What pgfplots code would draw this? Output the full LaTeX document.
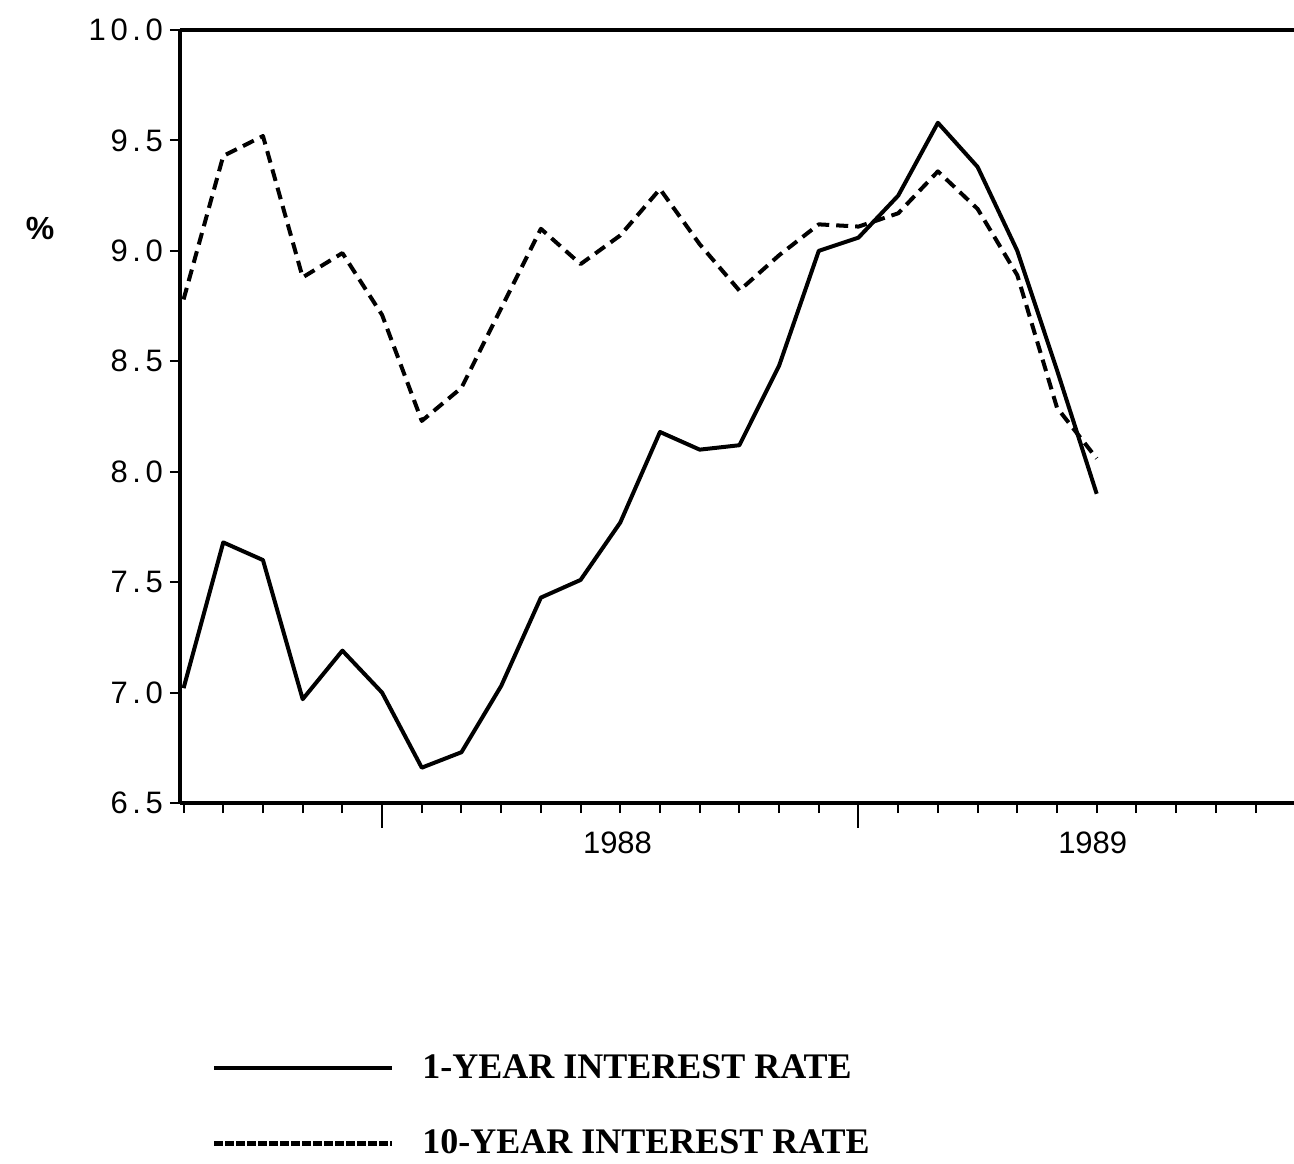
\documentclass[border=0pt]{standalone}
\usepackage{pgfplots}
\pgfplotsset{compat=1.18}
\usepackage{fontspec}
\setmainfont{Liberation Serif}
\newfontfamily\tickfont{Liberation Sans}
\newfontfamily\ytickfont{Liberation Sans}[LetterSpace=15]
\newcommand{\tickfs}{\tickfont\fontsize{15.5}{16}\selectfont}
\newcommand{\ytickfs}{\ytickfont\fontsize{15.5}{16}\selectfont}
\newcommand{\legendfont}{\fontsize{18}{20}\selectfont\bfseries}

\pgfplotstableread{
m v
-5 7.02
-4 7.68
-3 7.60
-2 6.97
-1 7.19
0 7.00
1 6.66
2 6.73
3 7.03
4 7.43
5 7.51
6 7.77
7 8.18
8 8.10
9 8.12
10 8.48
11 9.00
12 9.06
13 9.25
14 9.58
15 9.38
16 9.00
17 8.46
18 7.90
}\oneyear

\pgfplotstableread{
m v
-5 8.78
-4 9.43
-3 9.52
-2 8.88
-1 8.99
0 8.71
1 8.23
2 8.38
3 8.74
4 9.10
5 8.94
6 9.07
7 9.28
8 9.03
9 8.82
10 8.98
11 9.12
12 9.11
13 9.17
14 9.36
15 9.19
16 8.89
17 8.29
18 8.06
}\tenyear

\begin{document}
\begin{tikzpicture}
\path[use as bounding box] (-90pt,-180pt) rectangle (557pt,401.5pt);
\begin{axis}[
  at={(0pt,0pt)}, anchor=south west,
  scale only axis,
  width=557pt, height=386.5pt,
  xmin=-5.09, xmax=22.97,
  ymin=6.5, ymax=10,
  axis x line*=box, axis y line*=left,
  axis line style={line width=2.4pt},
  xtick={-5,...,22}, xticklabels={},
  ytick={6.5,7,...,10},
  xtick pos=left, ytick pos=left,
  tick align=outside,
  major tick length=5pt,
  tick style={line width=1pt, black},
  /pgf/number format/assume math mode=true,
  yticklabel style={font=\ytickfs, /pgf/number format/.cd, fixed, fixed zerofill, precision=1},
  clip=false,
  legend style={draw=none, fill=none, at={(0.0287,-0.326)}, anchor=north west,
    inner sep=0pt, outer sep=0pt, row sep=24pt, font=\legendfont,
    nodes={inner sep=0pt},
    /tikz/every odd column/.append style={column sep=14pt}},
  legend cell align=left,
  legend image code/.code={\draw[#1] (0pt,0pt) -- (89pt,0pt);},
]
\addplot[black, line width=2pt, line join=round, forget plot] table[x=m,y=v] {\oneyear};
\addplot[black, line width=2pt, line join=round, dash pattern=on 6pt off 3.5pt, forget plot] table[x=m,y=v] {\tenyear};
\addlegendimage{black, line width=2pt}
\addlegendentry{1-YEAR INTEREST RATE}
\addlegendimage{black, line width=2.2pt, dash pattern=on 4.25pt off 1.25pt}
\addlegendentry{10-YEAR INTEREST RATE}
\draw[line width=1pt] (axis cs:0,6.5) -- ([yshift=-12.5pt]axis cs:0,6.5);
\draw[line width=1pt] (axis cs:12,6.5) -- ([yshift=-12.5pt]axis cs:12,6.5);
\node[font=\tickfs] at (axis cs:5.93,6.5) [yshift=-20pt] {1988};
\node[font=\tickfs] at (axis cs:17.9,6.5) [yshift=-20pt] {1989};
\end{axis}
\node[font=\tickfont\fontsize{16}{16}\selectfont\bfseries] at (-70pt,287.5pt) {\%};
\end{tikzpicture}
\end{document}
